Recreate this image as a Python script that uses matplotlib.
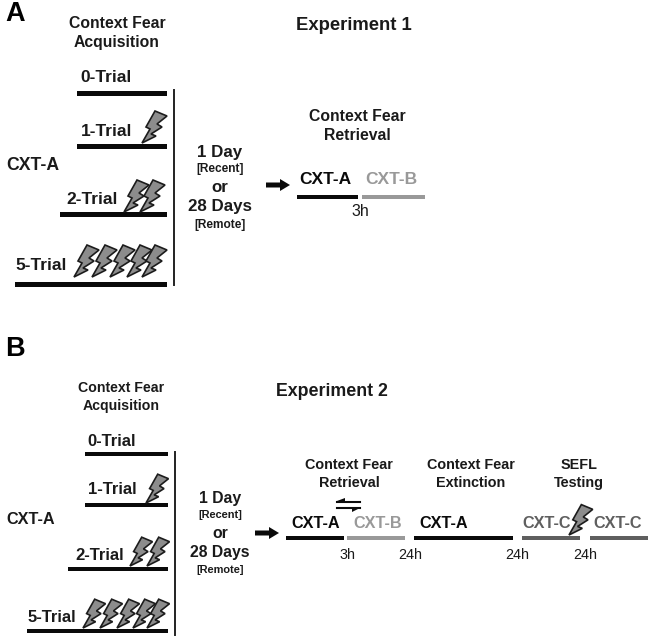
import matplotlib
matplotlib.use("Agg")
import matplotlib.pyplot as plt
from matplotlib.patches import Polygon

plt.rcParams['font.family'] = ['Liberation Sans', 'DejaVu Sans']

BLACK = '#0a0a0a'
TXT = '#1a1a1a'
GRAY_B = '#999999'
GRAY_C = '#5f5f5f'

# Trial groups: label, bar start, bar end, bar y, bolt tip x positions, label x, label y
trial_labels = ['0-Trial', '1-Trial', '2-Trial', '5-Trial']
a_bar_start = [77, 77, 60, 15]
a_bar_end = [167, 167, 167, 167]
a_bar_y = [93, 146, 214, 284]
a_label_x = [106, 107, 92, 41]
a_label_y = [78, 131, 200, 266]
a_bolts = [[], [142], [124, 140], [74, 92, 110, 127, 142]]
a_bolt_y = [0, 143, 212, 277]

b_bar_start = [85, 85, 68, 27]
b_bar_end = [168, 168, 168, 168]
b_bar_y = [454, 505, 569, 631]
b_label_x = [112, 112, 99.5, 52]
b_label_y = [441, 490, 555, 617]
b_bolts = [[], [146], [130, 147], [83, 100, 117, 133, 147]]
b_bolt_y = [0, 503, 566, 628]

# Timeline bars and their labels
a_ctx = ['CXT-A', 'CXT-B']
a_ctx_start = [297, 362]
a_ctx_end = [358, 425]
a_ctx_color = [BLACK, GRAY_B]
a_ctx_label_x = [325, 391]
b_ctx = ['CXT-A', 'CXT-B', 'CXT-A', 'CXT-C', 'CXT-C']
b_ctx_start = [286, 347, 414, 522, 590]
b_ctx_end = [344, 405, 513, 580, 648]
b_ctx_color = [BLACK, GRAY_B, BLACK, GRAY_C, GRAY_C]
b_ctx_label_x = [316, 378, 444, 547, 618]
b_delay = ['3h', '24h', '24h', '24h']
b_delay_x = [347, 410, 517, 585]

# Bolt outline, pixels relative to its tip
bolt_x = [0, 8, 4, 13, 25, 15, 20, 9, 14, 0]
bolt_y = [0, -14, -16, -32, -27, -19, -16, -9, -7, 0]

fig = plt.figure(figsize=(6.5, 6.37), dpi=100)
ax = fig.add_axes([0, 0, 1, 1])
ax.set_xlim(0, 650)
ax.set_ylim(637, 0)
ax.axis('off')


def bar(x0, x1, y, color=BLACK, h=5):
    ax.fill([x0, x1, x1, x0], [y - h / 2, y - h / 2, y + h / 2, y + h / 2],
            color=color, lw=0, zorder=2)


def bolt(x, y, s=1.0):
    pts = [(x + px * s, y + py * s) for px, py in zip(bolt_x, bolt_y)]
    ax.add_patch(Polygon(pts, closed=True, fc='#8c8c8c', ec='#1c1c1c', lw=1.2,
                         joinstyle='miter', zorder=3))


def txt(x, y, s, size=11.5, color=TXT, weight='bold', **kw):
    ax.text(x, y, s, fontsize=size, color=color, fontweight=weight,
            ha='center', va='center', **kw)


def arrow(x0, x1, y):
    ax.fill([x0, x1 - 10, x1 - 10, x1, x1 - 10, x1 - 10, x0],
            [y - 2.5, y - 2.5, y - 6, y, y + 6, y + 2.5, y + 2.5],
            color=BLACK, lw=0, zorder=3)


def day_block(x, ys, size):
    labels = ['1 Day', '[Recent]', 'or', '28 Days', '[Remote]']
    sizes = [size, size * 0.7, size, size, size * 0.7]
    for y, lab, sz in zip(ys, labels, sizes):
        txt(x, y, lab, sz)


# Panel letters
txt(15, 14, 'A', 19.5, color='#000000')
txt(15, 349, 'B', 19.5, color='#000000')

# Titles
txt(354, 26, 'Experiment 1', 13.3)
txt(332, 391, 'Experiment 2', 12.8)

# Panel A, acquisition
txt(117, 33, 'Context Fear\nAcquisition', 11.3, linespacing=1.35)
txt(33, 166, 'CXT-A', 12.7)
for i, lab in enumerate(trial_labels):
    bar(a_bar_start[i], a_bar_end[i], a_bar_y[i], h=5)
    txt(a_label_x[i], a_label_y[i], lab, 12.5)
    for bx in a_bolts[i]:
        bolt(bx, a_bolt_y[i], 1.0)
ax.plot([174, 174], [90, 285], color='#222222', lw=1.4, zorder=2)
day_block(220, [152, 169, 187, 207, 225], 12.2)
arrow(266, 290, 185)

# Panel A, retrieval
txt(357, 126, 'Context Fear\nRetrieval', 11.3, linespacing=1.35)
for i, lab in enumerate(a_ctx):
    bar(a_ctx_start[i], a_ctx_end[i], 197, a_ctx_color[i], h=4.5)
    txt(a_ctx_label_x[i], 179, lab, 12.5, color=a_ctx_color[i])
txt(360, 212, '3h', 11.5, weight='normal')

# Panel B, acquisition
txt(121, 397, 'Context Fear\nAcquisition', 10.2, linespacing=1.35)
txt(31, 519, 'CXT-A', 11.7)
for i, lab in enumerate(trial_labels):
    bar(b_bar_start[i], b_bar_end[i], b_bar_y[i], h=4.5)
    txt(b_label_x[i], b_label_y[i], lab, 12)
    for bx in b_bolts[i]:
        bolt(bx, b_bolt_y[i], 0.9)
ax.plot([175, 175], [452, 635], color='#222222', lw=1.4, zorder=2)
day_block(220, [498, 515, 533, 552, 570], 11.3)
arrow(255, 279, 533)

# Panel B, timeline
txt(349, 474, 'Context Fear\nRetrieval', 10.4, linespacing=1.35)
txt(471, 474, 'Context Fear\nExtinction', 10.4, linespacing=1.35)
txt(579, 474, 'SEFL\nTesting', 10.4, linespacing=1.35)
for i, lab in enumerate(b_ctx):
    bar(b_ctx_start[i], b_ctx_end[i], 538, b_ctx_color[i], h=4.5)
    txt(b_ctx_label_x[i], 523, lab, 11.7, color=b_ctx_color[i])
for x, lab in zip(b_delay_x, b_delay):
    txt(x, 555, lab, 10.4, weight='normal')
bolt(569, 535, 0.95)

# Swap arrows
for y0, x_tip, x_end, dy in [(501.5, 337, 360, -1), (507.5, 360, 337, 1)]:
    ax.plot([x_tip, x_end], [y0, y0], color=BLACK, lw=1.5, zorder=3)
    sign = 1 if x_end > x_tip else -1
    ax.fill([x_tip, x_tip + sign * 8, x_tip + sign * 8],
            [y0 + dy * 0.8, y0 + dy * 0.8, y0 + dy * 4],
            color=BLACK, lw=0, zorder=3)

fig.savefig('out.png', dpi=100, facecolor='white')
